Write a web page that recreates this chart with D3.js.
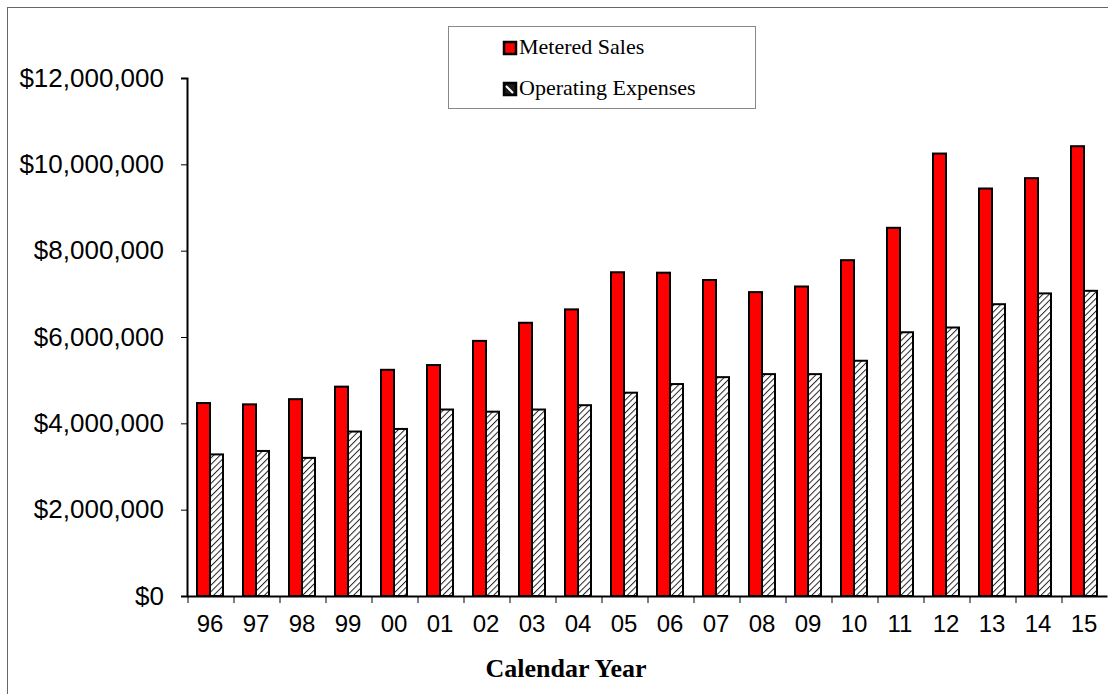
<!DOCTYPE html>
<html>
<head>
<meta charset="utf-8">
<script src="https://cdn.jsdelivr.net/npm/d3@7"></script>
<style>
  body { margin: 0; background: #fff; }
</style>
</head>
<body>
<div id="chart"></div>
<script>
// values
var years = ["96", "97", "98", "99", "00", "01", "02", "03", "04", "05",
  "06", "07", "08", "09", "10", "11", "12", "13", "14", "15"];
var meteredSales = [4470000, 4440000, 4560000, 4850000, 5240000, 5350000, 5910000, 6330000, 6640000, 7500000,
  7490000, 7320000, 7040000, 7170000, 7780000, 8530000, 10250000, 9440000, 9680000, 10420000];
var operatingExpenses = [3280000, 3360000, 3200000, 3810000, 3870000, 4320000, 4270000, 4320000, 4420000, 4710000,
  4910000, 5070000, 5140000, 5140000, 5450000, 6110000, 6220000, 6760000, 7010000, 7070000];
var yTicks = [0, 2000000, 4000000, 6000000, 8000000, 10000000, 12000000];

var width = 1108, height = 694;
var margin = { left: 187, right: 1, top: 78, bottom: 98 };

var svg = d3.select("#chart").append("svg")
  .attr("width", width)
  .attr("height", height);

// hatch pattern for the expenses bars
var defs = svg.append("defs");
defs.append("pattern")
  .attr("id", "hatch")
  .attr("patternUnits", "userSpaceOnUse")
  .attr("width", 4.5)
  .attr("height", 4.5)
  .attr("patternTransform", "rotate(45)")
  .call(function (p) {
    p.append("rect").attr("width", 4.5).attr("height", 4.5).attr("fill", "#fff");
    p.append("line")
      .attr("x1", 0).attr("y1", 0).attr("x2", 0).attr("y2", 4.5)
      .attr("stroke", "#222").attr("stroke-width", 2);
  });

// outer frame (only top and left edges show in the picture)
svg.append("rect")
  .attr("x", 7.5).attr("y", 7.5)
  .attr("width", 1110).attr("height", 700)
  .attr("fill", "none")
  .attr("stroke", "#666")
  .attr("stroke-width", 1);

var x = d3.scaleBand()
  .domain(years)
  .range([margin.left, width - margin.right]);

var y = d3.scaleLinear()
  .domain([0, 12000000])
  .range([height - margin.bottom, margin.top]);

var barW = 13;

// bars
var groups = svg.append("g")
  .selectAll("g")
  .data(years)
  .enter().append("g");

groups.append("rect")
  .attr("x", function (d) { return x(d) + x.bandwidth() / 2 - barW; })
  .attr("y", function (d, i) { return y(meteredSales[i]); })
  .attr("width", barW)
  .attr("height", function (d, i) { return y(0) - y(meteredSales[i]); })
  .attr("fill", "#ff0000")
  .attr("stroke", "#000")
  .attr("stroke-width", 2);

groups.append("rect")
  .attr("x", function (d) { return x(d) + x.bandwidth() / 2; })
  .attr("y", function (d, i) { return y(operatingExpenses[i]); })
  .attr("width", barW)
  .attr("height", function (d, i) { return y(0) - y(operatingExpenses[i]); })
  .attr("fill", "url(#hatch)")
  .attr("stroke", "#000")
  .attr("stroke-width", 2);

// y axis
var yAxis = svg.append("g")
  .attr("transform", "translate(" + margin.left + ",0)")
  .call(d3.axisLeft(y)
    .tickValues(yTicks)
    .tickSize(6)
    .tickPadding(17)
    .tickFormat(function (d) { return "$" + d3.format(",")(d); }));

yAxis.select(".domain").attr("stroke-width", 2);
yAxis.selectAll("line").attr("stroke-width", 1);
yAxis.selectAll("text")
  .attr("font-family", "Liberation Sans, Arial, sans-serif")
  .attr("font-size", 26)
  .attr("fill", "#000");

// x axis
var xAxis = svg.append("g")
  .attr("transform", "translate(0," + y(0) + ")")
  .call(d3.axisBottom(x).tickSize(0).tickPadding(19));

xAxis.select(".domain").attr("stroke-width", 2);
xAxis.selectAll("text")
  .attr("font-family", "Liberation Sans, Arial, sans-serif")
  .attr("font-size", 24)
  .attr("fill", "#000");

// category separator ticks
svg.append("g")
  .selectAll("line")
  .data(years)
  .enter().append("line")
  .attr("x1", function (d) { return x(d) + 1; })
  .attr("x2", function (d) { return x(d) + 1; })
  .attr("y1", y(0))
  .attr("y2", y(0) + 7)
  .attr("stroke", "#000")
  .attr("stroke-width", 1);

// axis title
svg.append("text")
  .attr("x", 566)
  .attr("y", 677)
  .attr("text-anchor", "middle")
  .attr("font-family", "Liberation Serif, Times New Roman, serif")
  .attr("font-weight", "bold")
  .attr("font-size", 26)
  .text("Calendar Year");

// legend
var legend = svg.append("g");
legend.append("rect")
  .attr("x", 448.5).attr("y", 26.5)
  .attr("width", 307).attr("height", 82)
  .attr("fill", "#fff")
  .attr("stroke", "#888")
  .attr("stroke-width", 1);

var legendItems = [
  { label: "Metered Sales", fill: "#ff0000", y: 48 },
  { label: "Operating Expenses", fill: "#1a1a1a", y: 89 }
];

var keys = legend.selectAll("g.key")
  .data(legendItems)
  .enter().append("g")
  .attr("class", "key");

keys.append("rect")
  .attr("x", 504)
  .attr("y", function (d) { return d.y - 6; })
  .attr("width", 12)
  .attr("height", 12)
  .attr("fill", function (d) { return d.fill; })
  .attr("stroke", "#000")
  .attr("stroke-width", 2.5);

// white stroke through the expenses key, like the shrunken hatch
keys.filter(function (d, i) { return i === 1; })
  .append("line")
  .attr("x1", 506).attr("y1", function (d) { return d.y - 3; })
  .attr("x2", 513).attr("y2", function (d) { return d.y + 4; })
  .attr("stroke", "#fff")
  .attr("stroke-width", 2);

keys.append("text")
  .attr("x", 519)
  .attr("y", function (d) { return d.y + 6; })
  .attr("font-family", "Liberation Serif, Times New Roman, serif")
  .attr("font-size", 22)
  .text(function (d) { return d.label; });
</script>
</body>
</html>
